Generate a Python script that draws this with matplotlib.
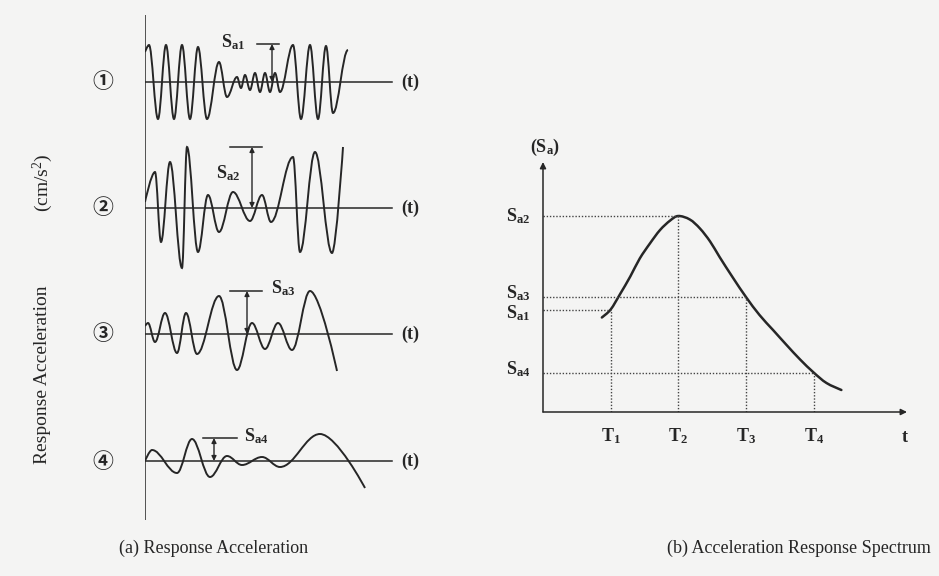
import matplotlib.pyplot as plt
from matplotlib.path import Path
from matplotlib.patches import PathPatch

plt.rcParams['font.family'] = ['Liberation Serif', 'DejaVu Serif']
plt.rcParams['mathtext.fontset'] = 'custom'
plt.rcParams['mathtext.rm'] = 'Liberation Serif'
plt.rcParams['mathtext.it'] = 'Liberation Serif:italic'
plt.rcParams['mathtext.bf'] = 'Liberation Serif:bold'

# (a) response acceleration records, turning points (time, amplitude)
t1 = [0.0, 0.4, 1.3, 2.1, 2.9, 3.7, 4.5, 5.3, 6.2, 7.4, 8.2, 9.2, 9.6, 10.0, 10.5, 11.0, 11.5,
      12.0, 12.5, 13.0, 13.5, 14.8, 15.6, 16.5, 17.3, 18.1, 18.8, 20.3]
a1 = [30, 37, -37, 37, -37, 37, -37, 35, -37, 20, -15, 5, -6, 7, -8, 9, -10,
      9, -10, 9, -10, 37, -37, 37, -37, 36, -31, 32]
t2 = [0.0, 1.0, 1.6, 2.5, 3.7, 4.2, 5.3, 6.3, 7.4, 8.8, 10.5, 11.7, 12.6, 14.8, 15.5, 17.0, 18.7, 19.8]
a2 = [6, 36, -34, 46, -60, 61, -44, 13, -24, 16, -13, 13, -14, 51, -44, 56, -45, 61]
t3 = [0.0, 0.3, 1.0, 2.0, 3.2, 4.1, 5.2, 7.4, 9.2, 10.7, 12.0, 13.3, 14.7, 16.5, 19.2]
a3 = [8, 11, -8, 21, -19, 21, -20, 38, -36, 11, -15, 11, -16, 43, -37]
t4 = [0.0, 0.7, 3.2, 4.7, 6.5, 8.2, 9.7, 11.7, 13.5, 17.5, 22.0]
a4 = [0, 11, -12, 22, -16, 5, -4, 4, -6, 27, -27]
records = [(t1, a1), (t2, a2), (t3, a3), (t4, a4)]
record_labels = ['\u2460', '\u2461', '\u2462', '\u2463']

# peak markers S_a1..S_a4 on each record
sa_names = ['a1', 'a2', 'a3', 'a4']
peak_t = [12.7, 10.7, 10.2, 6.9]
peak_a = [38, 61, 43, 23]
bar_from = [11.2, 8.5, 8.5, 5.8]
bar_to = [13.4, 11.7, 11.7, 9.2]

# (b) acceleration response spectrum
period = [0.87, 1.0, 1.14, 1.29, 1.43, 1.58, 1.73, 1.88, 2.0, 2.17, 2.32, 2.47, 2.61,
          2.81, 3.0, 3.2, 3.4, 3.6, 3.8, 4.0, 4.19, 4.41]
sa = [1.89, 2.05, 2.36, 2.71, 3.07, 3.37, 3.64, 3.83, 3.92, 3.85, 3.67, 3.41, 3.10,
      2.68, 2.3, 1.94, 1.64, 1.34, 1.05, 0.79, 0.58, 0.44]
T_marks = [1.0, 2.0, 3.0, 4.0]
T_labels = ['T_1', 'T_2', 'T_3', 'T_4']
Sa_marks = [2.05, 3.92, 2.3, 0.79]

INK = '#262626'
BG = '#f4f4f3'
K = 1 - 2 / 3.14159265  # bezier handle giving a sine-like half wave


def wave_path(t, a, base, flat_end):
    verts = [(t[0], base + a[0])]
    codes = [Path.MOVETO]
    n = len(t)
    for i in range(n - 1):
        dx = t[i + 1] - t[i]
        k0 = 0 if i == 0 else K
        k1 = K if (i < n - 2 or flat_end) else 0
        verts += [(t[i] + k0 * dx, base + a[i]),
                  (t[i + 1] - k1 * dx, base + a[i + 1]),
                  (t[i + 1], base + a[i + 1])]
        codes += [Path.CURVE4] * 3
    return Path(verts, codes)


def smooth_path(x, y):
    # catmull-rom through the read points, drawn as bezier segments
    pts = list(zip(x, y))
    verts = [pts[0]]
    codes = [Path.MOVETO]
    for i in range(len(pts) - 1):
        p0 = pts[i - 1] if i > 0 else pts[i]
        p1, p2 = pts[i], pts[i + 1]
        p3 = pts[i + 2] if i + 2 < len(pts) else pts[i + 1]
        c1 = (p1[0] + (p2[0] - p0[0]) / 6, p1[1] + (p2[1] - p0[1]) / 6)
        c2 = (p2[0] - (p3[0] - p1[0]) / 6, p2[1] - (p3[1] - p1[1]) / 6)
        verts += [c1, c2, p2]
        codes += [Path.CURVE4] * 3
    return Path(verts, codes)


fig = plt.figure(figsize=(9.39, 5.76), dpi=100, facecolor=BG)

# ---- left panel: records ----
ax = fig.add_axes([145 / 939, 0, 250 / 939, 1])
ax.set_xlim(0, 25)
ax.set_ylim(-576, 0)
ax.axis('off')
baselines = [-82, -208, -334, -461]

ax.plot([0, 0], [-15, -520], color=INK, lw=1.1, solid_capstyle='butt')
for i, (t, a) in enumerate(records):
    b = baselines[i]
    ax.plot([0, 24.7], [b, b], color=INK, lw=1.1)
    ax.add_patch(PathPatch(wave_path(t, a, b, i == 0), fill=False, ec=INK, lw=1.4))
    ax.text(-4.2, b, record_labels[i], fontsize=15, fontweight='bold', ha='center',
            va='center', color=INK, family=['Noto Sans CJK JP', 'DejaVu Sans'], clip_on=False)
    ax.text(26.5, b, '(t)', fontsize=13, fontweight='bold', ha='center', va='center',
            color=INK, clip_on=False)
    # peak marker
    ax.plot([bar_from[i], bar_to[i]], [b + peak_a[i], b + peak_a[i]], color=INK, lw=1.1)
    ax.annotate('', xy=(peak_t[i], b + peak_a[i]), xytext=(peak_t[i], b),
                arrowprops=dict(arrowstyle='<|-|>', color=INK, lw=1.0,
                                mutation_scale=7, shrinkA=0, shrinkB=0))

label_pos = [(8.8, 40), (8.3, 35), (13.8, 46), (11.1, 25)]
for i, (lx, ly) in enumerate(label_pos):
    ax.text(lx, baselines[i] + ly, r'$\mathbf{S_{%s}}$' % sa_names[i], fontsize=13,
            ha='center', va='center', color=INK)

fig.text(43 / 939, 1 - 375 / 576, 'Response Acceleration', rotation=90, fontsize=14,
         ha='center', va='center', color=INK)
fig.text(43 / 939, 1 - 183 / 576, r'(cm/s$^{2}$)', rotation=90, fontsize=14,
         ha='center', va='center', color=INK)

# ---- right panel: spectrum ----
axr = fig.add_axes([543 / 939, (576 - 412) / 576, 364 / 939, 250 / 576])
axr.set_xlim(0, 5.38)
axr.set_ylim(0, 5.0)
axr.axis('off')

axr.annotate('', xy=(0, 5.0), xytext=(0, 0),
             arrowprops=dict(arrowstyle='-|>', color=INK, lw=1.1, mutation_scale=9,
                             shrinkA=0, shrinkB=0))
axr.annotate('', xy=(5.38, 0), xytext=(0, 0),
             arrowprops=dict(arrowstyle='-|>', color=INK, lw=1.1, mutation_scale=9,
                             shrinkA=0, shrinkB=0))

for tm, sm in zip(T_marks, Sa_marks):
    axr.plot([0, tm], [sm, sm], color='#444444', lw=1.0, ls=(0, (1, 1.3)))
    axr.plot([tm, tm], [0, sm], color='#444444', lw=1.0, ls=(0, (1, 1.3)))

axr.add_patch(PathPatch(smooth_path(period, sa), fill=False, ec=INK, lw=1.8,
                        capstyle='round'))

sa_label_dy = [-0.08, 0.0, 0.08, 0.06]
for i, sm in enumerate(Sa_marks):
    axr.text(-0.19, sm + sa_label_dy[i], r'$\mathbf{S_{%s}}$' % sa_names[i], fontsize=13,
             ha='right', va='center', color=INK, clip_on=False)
for tm, tl in zip(T_marks, T_labels):
    axr.text(tm, -0.48, r'$\mathbf{%s}$' % tl, fontsize=13, ha='center',
             va='center', color=INK, clip_on=False)
axr.text(5.35, -0.5, r'$\mathbf{t}$', fontsize=13, ha='center', va='center', color=INK,
         clip_on=False)
axr.text(0.03, 5.3, r'$\mathbf{(S_a)}$', fontsize=13, ha='center', va='center', color=INK,
         clip_on=False)

fig.text(214 / 939, 1 - 548 / 576, '(a) Response Acceleration', fontsize=13,
         ha='center', va='center', color=INK)
fig.text(799 / 939, 1 - 548 / 576, '(b) Acceleration Response Spectrum', fontsize=13,
         ha='center', va='center', color=INK)

fig.savefig('out.png', dpi=100, facecolor=BG)
